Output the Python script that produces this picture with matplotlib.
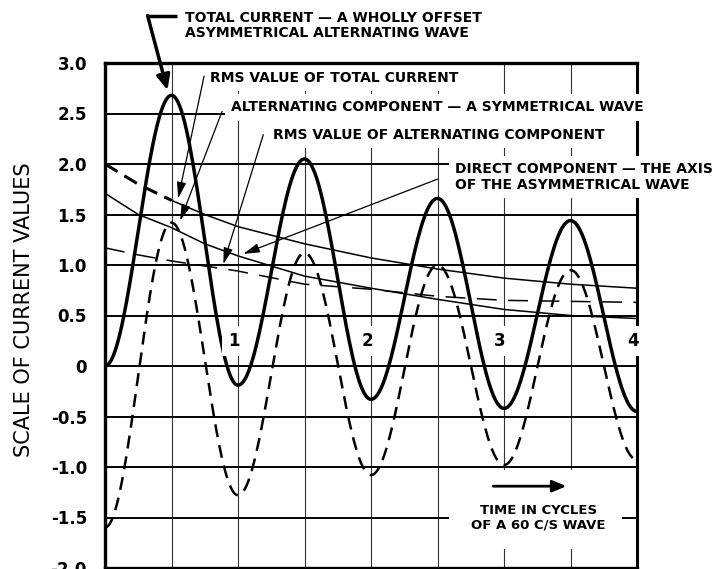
import numpy as np
import matplotlib.pyplot as plt
from matplotlib.patches import Rectangle

# crests and troughs of the two waves, one every half cycle
half_cycles = [0.0, 0.5, 1.0, 1.5, 2.0, 2.5, 3.0, 3.5, 4.0]
total_current = [0.0, 2.68, -0.19, 2.05, -0.33, 1.66, -0.42, 1.44, -0.45]
alternating = [-1.60, 1.42, -1.28, 1.12, -1.08, 1.00, -0.98, 0.95, -0.93]

# the slowly decaying curves, read at these times (cycles)
decay_t = [0.0, 0.25, 0.5, 0.75, 1.0, 1.5, 2.0, 2.5, 3.0, 3.5, 4.0]
rms_total = [2.00, 1.80, 1.64, 1.50, 1.38, 1.21, 1.07, 0.96, 0.87, 0.81, 0.77]
direct = [1.71, 1.50, 1.37, 1.21, 1.09, 0.89, 0.77, 0.66, 0.56, 0.50, 0.47]
rms_alternating = [1.17, 1.10, 1.04, 0.99, 0.94, 0.81, 0.76, 0.69, 0.65, 0.64, 0.63]

y_ticks = [3.0, 2.5, 2.0, 1.5, 1.0, 0.5, 0, -0.5, -1.0, -1.5, -2.0]
y_labels = ['3.0', '2.5', '2.0', '1.5', '1.0', '0.5', '0', '-0.5', '-1.0', '-1.5', '-2.0']
cycle_ticks = [1, 2, 3, 4]
cycle_labels = ['1', '2', '3', '4']


def wave(xs, ys, n=40):
    # join successive crests and troughs with half cosines
    px, py = [], []
    for i in range(len(xs) - 1):
        s = np.linspace(0, 1, n, endpoint=False)
        px.extend(xs[i] + (xs[i + 1] - xs[i]) * s)
        py.extend(ys[i] + (ys[i + 1] - ys[i]) * (1 - np.cos(np.pi * s)) / 2)
    px.append(xs[-1])
    py.append(ys[-1])
    return px, py


fig = plt.figure(figsize=(7.19, 5.69), dpi=100)
ax = fig.add_axes([105 / 719, 1 / 569, 532 / 719, 505 / 569])
ax.set_xlim(0, 4)
ax.set_ylim(-2, 3)

# grid
ax.set_xticks(np.arange(0.5, 4, 0.5))
ax.set_yticks(y_ticks)
ax.set_yticklabels(y_labels, fontsize=12, fontweight='bold')
ax.tick_params(axis='x', length=0, labelbottom=False)
ax.tick_params(axis='y', length=0, pad=13)
ax.set_axisbelow(True)
ax.yaxis.grid(True, color='black', lw=1.4)
ax.xaxis.grid(True, color='#333333', lw=0.8)

for side in ['left', 'top', 'bottom']:
    ax.spines[side].set_linewidth(2.4)
    ax.spines[side].set_zorder(10)
ax.spines['right'].set_linewidth(2.2)
ax.spines['right'].set_zorder(1)

# curves
x, y = wave(half_cycles, total_current)
ax.plot(x, y, color='black', lw=2.5, zorder=3, solid_capstyle='round')
x, y = wave(half_cycles, alternating)
ax.plot(x, y, color='black', lw=1.8, dashes=(5.2, 3.2), zorder=3)

ax.plot(decay_t[:3], rms_total[:3], color='black', lw=2.2, dashes=(4.8, 2.6), zorder=3)
ax.plot(decay_t[2:], rms_total[2:], color='black', lw=1.1, zorder=3)
ax.plot(decay_t, direct, color='black', lw=1.1, zorder=3)
ax.plot(decay_t, rms_alternating, color='black', lw=1.1, dashes=(13, 7.5), zorder=3)

# labels
box = dict(boxstyle='square,pad=0.45', fc='white', ec='none')
lab = dict(fontsize=10, fontweight='bold', ha='left', va='center', zorder=4,
           clip_on=False, linespacing=1.15)

ax.text(0.60, 3.37, 'TOTAL CURRENT \u2014 A WHOLLY OFFSET\nASYMMETRICAL ALTERNATING WAVE', **lab)
ax.text(0.79, 2.85, 'RMS VALUE OF TOTAL CURRENT', bbox=box, **lab)
ax.text(0.95, 2.56, 'ALTERNATING COMPONENT \u2014 A SYMMETRICAL WAVE', bbox=box, **lab)
ax.text(1.26, 2.29, 'RMS VALUE OF ALTERNATING COMPONENT', bbox=box, **lab)
ax.text(2.63, 1.87, 'DIRECT COMPONENT \u2014 THE AXIS\nOF THE ASYMMETRICAL WAVE', bbox=box, **lab)

for xc, txt in zip(cycle_ticks, cycle_labels):
    xp = xc - 0.03 if xc < 4 else xc - 0.03
    ax.text(xp, 0.25, txt, fontsize=12, fontweight='bold', ha='center', va='center',
            zorder=4, clip_on=False,
            bbox=dict(boxstyle='square,pad=0.35', fc='white', ec='none'))

# leader arrows
thin = dict(arrowstyle='-|>,head_length=0.7,head_width=0.2', lw=0.9, color='black',
            shrinkA=0, shrinkB=0, mutation_scale=14)
ax.plot([0.54, 0.32], [3.47, 3.47], color='black', lw=2.5, clip_on=False, zorder=6,
        solid_capstyle='butt')
ax.annotate('', xy=(0.47, 2.73), xytext=(0.32, 3.47), annotation_clip=False, zorder=6,
            arrowprops=dict(arrowstyle='-|>,head_length=0.5,head_width=0.22', lw=2.5,
                            color='black', shrinkA=0, shrinkB=0, mutation_scale=18))
ax.annotate('', xy=(0.55, 1.66), xytext=(0.745, 2.87), zorder=6, arrowprops=thin)
ax.annotate('', xy=(0.565, 1.44), xytext=(0.88, 2.52), zorder=6, arrowprops=thin)
ax.annotate('', xy=(0.89, 1.01), xytext=(1.19, 2.29), zorder=6, arrowprops=thin)
ax.annotate('', xy=(1.04, 1.11), xytext=(2.50, 1.85), zorder=6, arrowprops=thin)

# time note
ax.add_patch(Rectangle((2.59, -1.81), 1.30, 0.78, fc='white', ec='none', zorder=2))
ax.annotate('', xy=(3.47, -1.19), xytext=(2.92, -1.19), zorder=6,
            arrowprops=dict(arrowstyle='-|>,head_length=0.6,head_width=0.25', lw=2.0,
                            color='black', shrinkA=0, shrinkB=0, mutation_scale=14))
ax.text(3.26, -1.50, 'TIME IN CYCLES\nOF A 60 C/S WAVE', fontsize=9.5, fontweight='bold',
        ha='center', va='center', zorder=4, linespacing=1.1)

fig.text(24 / 719, (569 - 310) / 569, 'SCALE OF CURRENT VALUES', rotation=90,
         fontsize=15, ha='center', va='center')

fig.savefig('out.png', dpi=100)
